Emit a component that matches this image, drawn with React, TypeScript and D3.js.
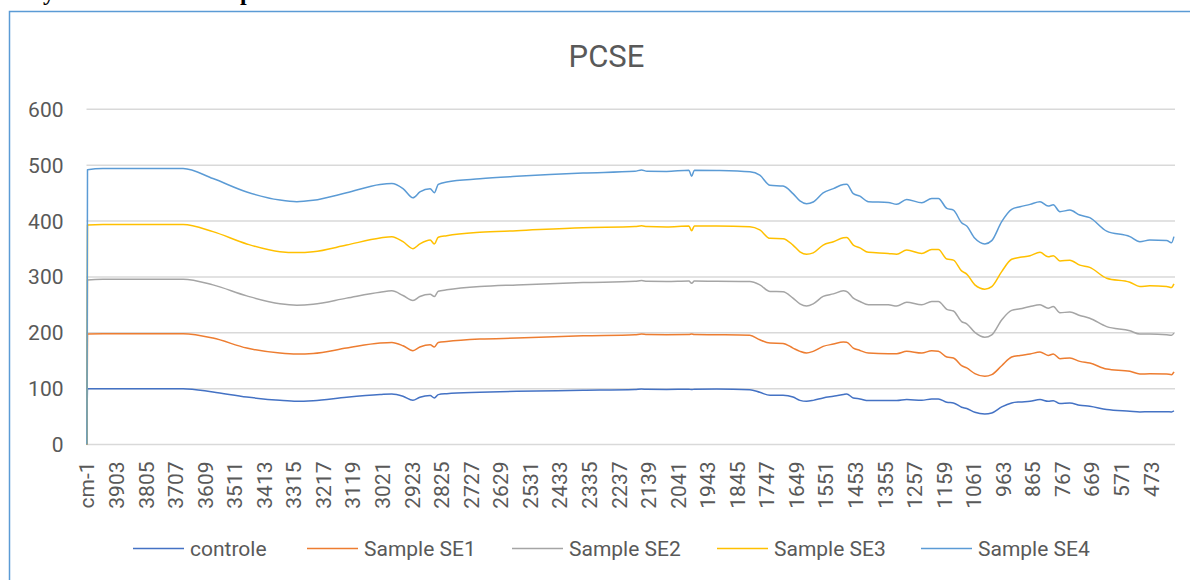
import React from "react";
import * as d3 from "d3";

// Wavenumber categories (cm-1). The first row is the "cm-1" header row (plotted as 0 by the spreadsheet).
const wavenumbers = [4001, 3999, 3948, 3682, 3583, 3471, 3361, 3305, 3251, 3140, 3029, 2990, 2953, 2920, 2897, 2863, 2849, 2836, 2808, 2698, 2576, 2356, 2184, 2162, 2144, 2079, 2005, 1996, 1987, 1913, 1803, 1770, 1736, 1693, 1660, 1637, 1615, 1593, 1560, 1526, 1493, 1482, 1460, 1438, 1410, 1344, 1316, 1283, 1233, 1200, 1178, 1150, 1128, 1101, 1084, 1057, 1024, 1001, 968, 935, 907, 874, 841, 814, 797, 775, 742, 709, 676, 620, 543, 510, 477, 421, 405, 397];

const controle = [0, 100, 100, 100, 94, 85, 79, 77.4, 78.5, 84.5, 89.3, 90.5, 86.3, 79, 84.5, 87.5, 83.3, 89.3, 91, 93.5, 95.2, 97, 98.5, 99.4, 98.8, 98.6, 99, 98.3, 99, 99.2, 98.2, 93.4, 88, 88, 85, 79, 77.4, 79, 83.3, 86.3, 89.3, 90.5, 83.3, 81.6, 78.6, 78.6, 78.6, 80.4, 79, 81.6, 81.6, 75.6, 74.4, 66.7, 64.3, 57.7, 54.8, 56.5, 67.3, 74.4, 76.2, 77.4, 80.4, 77.4, 78.5, 73.2, 74.4, 70.2, 68.5, 62.5, 59.5, 58.3, 58.5, 58.5, 58.3, 60.1];

const sampleSE1 = [0, 197.6, 198.2, 198.2, 190.5, 172.6, 163.7, 162, 163, 172.6, 181.6, 182.7, 176.8, 167.9, 174.4, 178.6, 174.4, 182.7, 184.5, 188.7, 190.5, 194.6, 196.5, 197.6, 196.8, 196.5, 196.8, 198, 196.8, 196.4, 195.5, 187.5, 181.6, 181, 172.6, 166.7, 163.7, 166.7, 175.6, 179.8, 183.3, 183, 172.6, 168.4, 163.7, 162.5, 162.5, 166.7, 163.7, 167.9, 167, 156.5, 154.8, 141, 137, 126.8, 122, 125, 141, 156.5, 159.5, 162, 165.5, 159.5, 162, 153.6, 154.8, 148.8, 145.8, 135, 131, 126.2, 126.5, 126.2, 125, 129.8];

const sampleSE2 = [0, 294.6, 296, 296, 285.7, 266, 251.8, 249.4, 251, 262, 272.6, 275, 266.7, 257.7, 264.9, 269, 264.9, 274.4, 276.8, 282.7, 285.7, 289.9, 292, 293.4, 292, 291.7, 292.5, 288.7, 292.5, 292, 291.7, 285.7, 273.8, 273.5, 262, 251.8, 248, 251.8, 265, 269.6, 275, 274, 262, 256, 250, 250, 248, 254.8, 250, 256, 256, 242, 239, 220, 216, 200.6, 192, 196.4, 223, 240, 242.9, 247, 250, 244, 247, 236, 237, 231, 226, 211, 203.6, 197.6, 198, 196.4, 195.5, 199.4];

const sampleSE3 = [0, 392.9, 394, 394, 381, 359, 345, 343.5, 345, 357, 369.6, 372, 363, 350.6, 359, 366, 359, 371, 373.8, 379.8, 382.7, 388, 390, 391.5, 390, 389.5, 391, 382.7, 391, 391, 389.8, 384, 369, 368.5, 357, 345, 340.5, 343, 357, 363, 370, 370.5, 357, 352, 344, 342, 340.5, 348, 342, 349, 349, 332, 330, 310.7, 305, 285.7, 278, 282.7, 309.5, 331.5, 335, 338, 344, 336, 338, 328.6, 330, 321, 317, 297.6, 290.5, 282.7, 284, 283, 281, 287.5];

const sampleSE4 = [0, 492, 494, 494, 476, 452, 437.5, 434.5, 437, 450.6, 465.5, 467, 458, 441.6, 452, 458, 450.6, 465.5, 470, 475.6, 480, 486, 489, 491.5, 489, 488.7, 491, 480, 491, 490.5, 488, 482, 464, 462.5, 449, 436, 431, 434, 450.6, 458, 465.5, 466, 449, 444.6, 434.5, 433.3, 430, 438.7, 432.7, 440.5, 440.5, 422.6, 419.6, 397, 391, 369, 359, 365, 399, 421, 425.6, 429.8, 434.5, 426.8, 429, 416.7, 419.6, 410.7, 406, 382, 372, 363, 366, 365, 361, 372];

const seriesNames = ["controle", "Sample SE1", "Sample SE2", "Sample SE3", "Sample SE4"];
const seriesValues = [controle, sampleSE1, sampleSE2, sampleSE3, sampleSE4];
const seriesColors = ["#4472C4", "#ED7D31", "#A5A5A5", "#FFC000", "#5B9BD5"];

const xTickLabels = ["cm-1", "3903", "3805", "3707", "3609", "3511", "3413", "3315", "3217", "3119", "3021", "2923", "2825", "2727", "2629", "2531", "2433", "2335", "2237", "2139", "2041", "1943", "1845", "1747", "1649", "1551", "1453", "1355", "1257", "1159", "1061", "963", "865", "767", "669", "571", "473"];
const yTicks = [0, 100, 200, 300, 400, 500, 600];

const TITLE = "PCSE";
const FONT = "Roboto, 'Noto Sans', sans-serif";
const TEXT = "#595959";

export default function App() {
  const W = 1190, H = 580;
  const plotLeft = 86.5, plotRight = 1175;
  const x = d3.scaleLinear().domain([4001, 473]).range([86.9, 1151]);
  const y = d3.scaleLinear().domain([0, 600]).range([444.5, 109.3]);

  const line = d3
    .line<[number, number]>()
    .x((d) => x(d[0]))
    .y((d) => y(d[1]))
    .curve(d3.curveMonotoneX);

  const tickPos = (lab: string) => (lab === "cm-1" ? 4001 : +lab);

  const legendLineStart = [133, 307, 512, 717, 921];

  return (
    <svg
      width={W}
      height={H}
      style={{ position: "absolute", left: 0, top: 0, background: "#fff" }}
      fontFamily={FONT}
    >
      <rect x={0} y={0} width={W} height={H} fill="#fff" />
      {/* cut-off heading of the surrounding document */}
      <g fontFamily="'Liberation Serif', 'DejaVu Serif', serif" fontWeight="bold" fontSize={24} fill="#000">
        <text x={43} y={0}>y</text>
        <text x={240} y={0}>p</text>
      </g>
      {/* chart frame */}
      <path d={`M9.5,${H} V11.5 H${W}`} fill="none" stroke="#5B9BD5" strokeWidth={1.5} />

      {/* title */}
      <text x={606.5} y={66.5} textAnchor="middle" fontSize={31} fill={TEXT}>
        {TITLE}
      </text>

      {/* gridlines */}
      {yTicks.map((t) => (
        <line key={t} x1={plotLeft} x2={plotRight} y1={y(t)} y2={y(t)} stroke="#D9D9D9" strokeWidth={1.5} />
      ))}

      {/* y labels */}
      {yTicks.map((t) => (
        <text key={t} x={63.5} y={y(t)} dy="0.36em" textAnchor="end" fontSize={21} fill={TEXT}>
          {t}
        </text>
      ))}

      {/* x labels */}
      {xTickLabels.map((lab) => {
        const px = x(tickPos(lab));
        return (
          <text
            key={lab}
            transform={`translate(${px},461.5) rotate(-90)`}
            dy="0.36em"
            textAnchor="end"
            fontSize={21}
            fill={TEXT}
          >
            {lab}
          </text>
        );
      })}

      {/* series */}
      {seriesValues.map((vals, i) => (
        <path
          key={seriesNames[i]}
          d={line(wavenumbers.map((w, j) => [w, vals[j]] as [number, number])) || ""}
          fill="none"
          stroke={seriesColors[i]}
          strokeWidth={1.5}
          strokeLinejoin="round"
        />
      ))}

      {/* legend */}
      {seriesNames.map((n, i) => (
        <g key={n}>
          <line
            x1={legendLineStart[i]}
            x2={legendLineStart[i] + 51}
            y1={548.5}
            y2={548.5}
            stroke={seriesColors[i]}
            strokeWidth={1.5}
          />
          <text x={legendLineStart[i] + 57} y={548.5} dy="0.36em" fontSize={21} fill={TEXT}>
            {n}
          </text>
        </g>
      ))}
    </svg>
  );
}
